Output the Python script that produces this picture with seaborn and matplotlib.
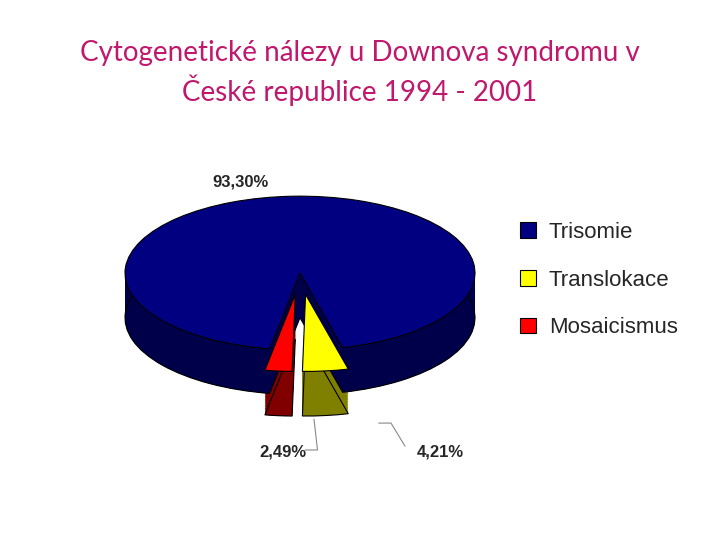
import matplotlib
matplotlib.use("Agg")
import matplotlib.pyplot as plt
import seaborn as sns
import numpy as np

categories = ["Trisomie", "Translokace", "Mosaicismus"]
values = [93.30, 4.21, 2.49]
labels = ["93,30%", "4,21%", "2,49%"]
top_colors = ["#000080", "#FFFF00", "#FF0000"]
side_colors = ["#00004A", "#808000", "#800000"]

sns.set_theme(style="white")
plt.rcParams['font.family'] = ['Liberation Sans', 'DejaVu Sans']

fig = plt.figure(figsize=(7.2, 5.4), dpi=100)
ax = fig.add_axes([100/720, 70/540, 400/720, 320/540])
explode = [0, 0.28, 0.28]
kw = dict(startangle=-100, counterclock=False, explode=explode, radius=1)
depth = 0.58
for d in np.linspace(depth, 0.01, 30):
    ax.pie(values, colors=side_colors, center=(0, -d),
           wedgeprops=dict(linewidth=0), **kw)
ax.pie(values, colors=side_colors, center=(0, -depth),
       wedgeprops=dict(linewidth=0.8, edgecolor="black"), **kw)
wedges, _ = ax.pie(values, colors=top_colors, center=(0, 0),
                   wedgeprops=dict(linewidth=0.8, edgecolor="black"), **kw)
ax.set_aspect("auto")
ax.set_xlim(-200/175, 200/175)
ax.set_ylim(-2.56, 1.6)
ax.axis("off")

ax.text(-0.34, 1.18, labels[0], ha="center", va="center", fontsize=12, fontweight="bold")
ax.text(-0.1, -2.32, labels[2], ha="center", va="center", fontsize=12, fontweight="bold")
ax.text(0.8, -2.32, labels[1], ha="center", va="center", fontsize=12, fontweight="bold")
ax.plot([0.08, 0.1, 0.03], [-1.9, -2.3, -2.3], color="#888888", lw=0.8)
ax.plot([0.45, 0.52, 0.6], [-1.95, -1.95, -2.25], color="#888888", lw=0.8)

fig.text(0.5, 1 - 53/540, "Cytogenetické nálezy u Downova syndromu v", ha="center", va="center",
         fontsize=20, color="#C0186C", family=["Lato", "DejaVu Sans"])
fig.text(0.5, 1 - 90/540, "České republice 1994 - 2001", ha="center", va="center",
         fontsize=20, color="#C0186C", family=["Lato", "DejaVu Sans"])

leg = fig.legend(wedges, categories, loc="upper left", bbox_to_anchor=(500/720, 1 - 202/540),
                 frameon=False, fontsize=16, labelspacing=1.2, handlelength=0.7,
                 handleheight=0.7, handletextpad=0.6)
for h in leg.legend_handles:
    h.set_edgecolor("black"); h.set_linewidth(0.8)

fig.savefig("out.png", dpi=100, facecolor="white")
